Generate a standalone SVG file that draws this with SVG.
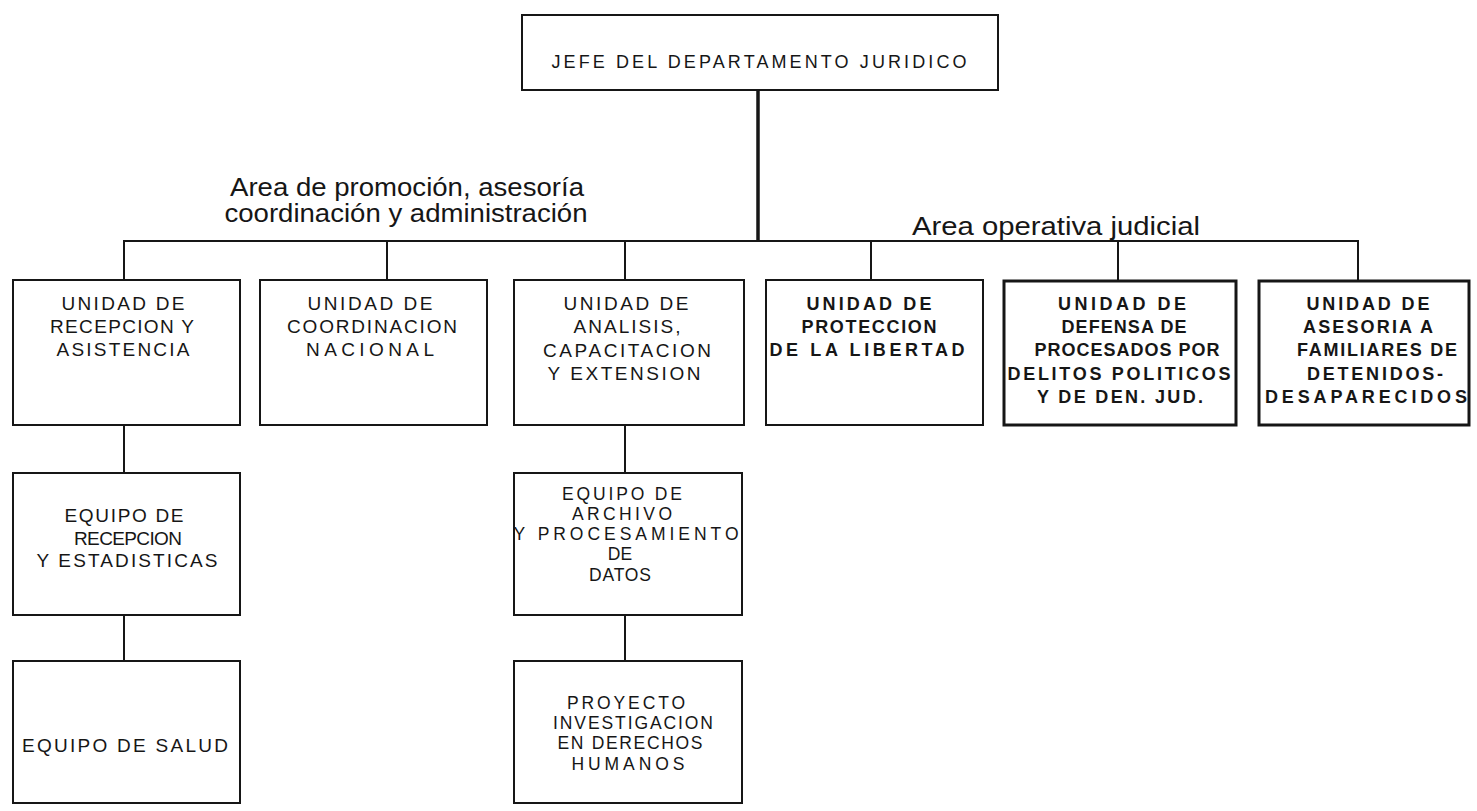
<svg xmlns="http://www.w3.org/2000/svg" width="1477" height="811" viewBox="0 0 1477 811">
<style>
.bg{fill:#ffffff}
.box{fill:#ffffff;stroke:#161616;stroke-width:2}
.boxb{fill:#ffffff;stroke:#161616;stroke-width:3}
.con{fill:none;stroke:#161616;stroke-width:2}
.conb{fill:none;stroke:#161616;stroke-width:3.5}
text{font-family:"Liberation Sans",Arial,sans-serif;fill:#161616;text-anchor:middle}
.t{font-size:19px}
.tj{font-size:18px}
.tl{font-size:19px}
.tc{font-size:17.5px}
.tb{font-size:18px;font-weight:bold}
.lbl{font-size:25px}
</style>
<rect class="bg" x="0" y="0" width="1477" height="811"/>
<g id="connectors">
<path class="conb" d="M758 90 V241"/>
<path class="con" d="M124 280 V241 H1358 V280"/>
<path class="con" d="M387 241 V280 M625 241 V280 M871 241 V280 M1118 241 V280"/>
<path class="con" d="M124 425 V473 M124 615 V661"/>
<path class="con" d="M625 425 V473 M625 615 V661"/>
</g>
<g id="labels">
<text class="lbl" x="407" y="196" textLength="354" lengthAdjust="spacingAndGlyphs">Area de promoción, asesoría</text>
<text class="lbl" x="406" y="222" textLength="363" lengthAdjust="spacingAndGlyphs">coordinación y administración</text>
<text class="lbl" x="1056" y="235" textLength="288" lengthAdjust="spacingAndGlyphs">Area operativa judicial</text>
</g>
<g id="jefe">
<rect class="box" x="522" y="15" width="476" height="75"/>
<text class="tj" x="759" y="68" textLength="415" lengthAdjust="spacing">JEFE DEL DEPARTAMENTO JURIDICO</text>
</g>
<g id="u-recepcion">
<rect class="box" x="13" y="280" width="227" height="145"/>
<text class="t" x="123" y="310" textLength="123" lengthAdjust="spacing">UNIDAD DE</text>
<text class="t" x="122" y="333" textLength="144" lengthAdjust="spacing">RECEPCION Y</text>
<text class="t" x="123" y="356" textLength="133" lengthAdjust="spacing">ASISTENCIA</text>
</g>
<g id="u-coordinacion">
<rect class="box" x="260" y="280" width="227" height="145"/>
<text class="t" x="370" y="310" textLength="125" lengthAdjust="spacing">UNIDAD DE</text>
<text class="t" x="372" y="333" textLength="170" lengthAdjust="spacing">COORDINACION</text>
<text class="t" x="370" y="356" textLength="128" lengthAdjust="spacing">NACIONAL</text>
</g>
<g id="u-analisis">
<rect class="box" x="514" y="280" width="230" height="145"/>
<text class="t" x="626" y="310" textLength="125" lengthAdjust="spacing">UNIDAD DE</text>
<text class="t" x="627" y="333" textLength="107" lengthAdjust="spacing">ANALISIS,</text>
<text class="t" x="627" y="357" textLength="168" lengthAdjust="spacing">CAPACITACION</text>
<text class="t" x="624" y="380" textLength="153" lengthAdjust="spacing">Y EXTENSION</text>
</g>
<g id="u-proteccion">
<rect class="box" x="766" y="280" width="217" height="145"/>
<text class="tb" x="869" y="310" textLength="125" lengthAdjust="spacing">UNIDAD DE</text>
<text class="tb" x="869" y="333" textLength="135" lengthAdjust="spacing">PROTECCION</text>
<text class="tb" x="867" y="356" textLength="195" lengthAdjust="spacing">DE LA LIBERTAD</text>
</g>
<g id="u-defensa">
<rect class="boxb" x="1004" y="281" width="232" height="144"/>
<text class="tb" x="1122" y="310" textLength="128" lengthAdjust="spacing">UNIDAD DE</text>
<text class="tb" x="1124" y="333" textLength="125" lengthAdjust="spacing">DEFENSA DE</text>
<text class="tb" x="1127" y="356" textLength="185" lengthAdjust="spacing">PROCESADOS POR</text>
<text class="tb" x="1119" y="380" textLength="223" lengthAdjust="spacing">DELITOS POLITICOS</text>
<text class="tb" x="1120" y="403" textLength="166" lengthAdjust="spacing">Y DE DEN. JUD.</text>
</g>
<g id="u-asesoria">
<rect class="boxb" x="1259" y="281" width="210" height="144"/>
<text class="tb" x="1368" y="310" textLength="123" lengthAdjust="spacing">UNIDAD DE</text>
<text class="tb" x="1368" y="333" textLength="130" lengthAdjust="spacing">ASESORIA A</text>
<text class="tb" x="1377" y="356" textLength="160" lengthAdjust="spacing">FAMILIARES DE</text>
<text class="tb" x="1375" y="380" textLength="136" lengthAdjust="spacing">DETENIDOS-</text>
<text class="tb" x="1366" y="403" textLength="202" lengthAdjust="spacing">DESAPARECIDOS</text>
</g>
<g id="e-recepcion">
<rect class="box" x="13" y="473" width="227" height="142"/>
<text class="tl" x="124" y="522" textLength="119" lengthAdjust="spacing">EQUIPO DE</text>
<text class="tl" x="128" y="545" textLength="108" lengthAdjust="spacing">RECEPCION</text>
<text class="tl" x="127" y="567" textLength="181" lengthAdjust="spacing">Y ESTADISTICAS</text>
</g>
<g id="e-salud">
<rect class="box" x="13" y="661" width="227" height="142"/>
<text class="tl" x="125" y="752" textLength="206" lengthAdjust="spacing">EQUIPO DE SALUD</text>
</g>
<g id="e-archivo">
<rect class="box" x="514" y="473" width="228" height="142"/>
<text class="tc" x="622" y="500" textLength="120" lengthAdjust="spacing">EQUIPO DE</text>
<text class="tc" x="622" y="520" textLength="100" lengthAdjust="spacing">ARCHIVO</text>
<text class="tc" x="626" y="540" textLength="225" lengthAdjust="spacing">Y PROCESAMIENTO</text>
<text class="tc" x="620" y="560">DE</text>
<text class="tc" x="620" y="581" textLength="62" lengthAdjust="spacing">DATOS</text>
</g>
<g id="p-investigacion">
<rect class="box" x="514" y="661" width="228" height="142"/>
<text class="tc" x="626" y="709" textLength="118" lengthAdjust="spacing">PROYECTO</text>
<text class="tc" x="633" y="729" textLength="160" lengthAdjust="spacing">INVESTIGACION</text>
<text class="tc" x="630" y="749" textLength="145" lengthAdjust="spacing">EN DERECHOS</text>
<text class="tc" x="628" y="770" textLength="113" lengthAdjust="spacing">HUMANOS</text>
</g>
</svg>
